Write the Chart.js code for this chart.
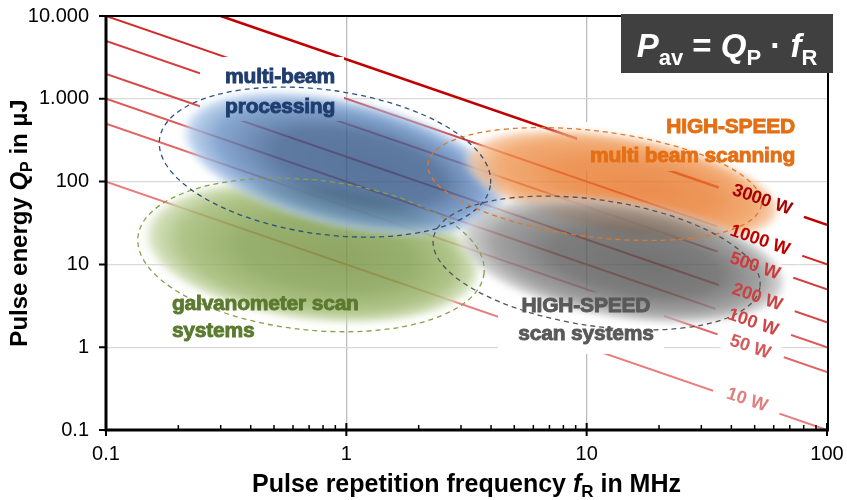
<!DOCTYPE html>
<html><head><meta charset="utf-8">
<script src="https://cdn.jsdelivr.net/npm/chart.js@4"></script>
<style>html,body{margin:0;padding:0;background:#fff;}#wrap{width:847px;height:500px;position:relative;}</style>
</head><body><div id="wrap"><canvas id="c" width="847" height="500"></canvas></div>
<script>
// ---------- data ----------
const xTickValues = [0.1, 1, 10, 100];
const xTickLabels = ['0.1', '1', '10', '100'];
const yTickValues = [0.1, 1, 10, 100, 1000, 10000];
const yTickLabels = ['0.1', '1', '10', '100', '1.000', '10.000'];

// lines of constant average power (f in MHz, Q in µJ)
const powerLabels = ['10 W', '50 W', '100 W', '200 W', '500 W', '1000 W', '3000 W'];
const lineStartF = [0.1, 0.1, 0.1, 0.1, 0.1, 0.1, 0.3];
const lineStartQ = [100, 500, 1000, 2000, 5000, 10000, 10000];
const lineEndF = [100, 100, 100, 100, 100, 100, 100];
const lineEndQ = [0.1, 0.5, 1, 2, 5, 10, 30];
const labelF = [46.5, 47.9, 49.2, 51.2, 50.1, 52.6, 53.7];
const labelQ = [0.23, 1.0, 1.98, 4.0, 9.5, 19.5, 60];

// application regions (ellipses)
const regionText = [['galvanometer scan', 'systems'], ['multi-beam', 'processing'], ['HIGH-SPEED', 'multi beam scanning'], ['HIGH-SPEED', 'scan systems']];
const fillCenterF = [0.719, 0.98, 14.0, 14.0];
const fillCenterQ = [14.1, 165, 91, 11.3];
const fillHalfDecF = [0.716, 0.70, 0.674, 0.699];
const fillHalfDecQ = [0.845, 0.78, 0.604, 0.725];
const outlineCenterF = [0.713, 0.815, 10.8, 11.0];
const outlineCenterQ = [13.0, 172, 93.5, 10.4];
const outlineHalfDecF = [0.724, 0.695, 0.699, 0.687];
const outlineHalfDecQ = [0.906, 0.87, 0.64, 0.761];
const textAnchorF = [0.188, 0.53, 73.6, 9.93];
const textAnchorQ = [2.81, 1552, 386, 2.66];

// white label backgrounds (f0, f1, Q0, Q1)
const boxF0 = [0.246, 9.12, 4.28];
const boxF1 = [0.978, 77.3, 21.0];
const boxQ0 = [540, 134, 0.83];
const boxQ1 = [3200, 525, 4.6];

// ---------- styles ----------
const FONT = '"Liberation Sans", Arial, Helvetica, sans-serif';
const lineColors = ['#e87c7c', '#e26464', '#dd5858', '#d94646', '#d63c3c', '#d42828', '#c00000'];
const lineWidths = [2, 2, 2, 2, 2, 2, 2.6];
const labelColors = ['#e07f7f', '#d65858', '#cf4444', '#cc4242', '#cc3a3a', '#c00000', '#a80000'];
const regionTilt = [7, 13, 10, 9];
const outlineTilt = [6, 8, 7, 8.5];
const regionGrad = [
  ['#748f3c', '#7e9c49', '#9cb66c', '#cbdaad', 'rgba(236,242,226,0)'],
  ['#2f5283', '#37598a', '#6890c5', '#adc7e8', 'rgba(222,233,247,0)'],
  ['#e67124', '#e97d31', '#ef9854', '#f5c59d', 'rgba(252,236,222,0)'],
  ['#4f4f4f', '#5c5c5c', '#8c8c8c', '#c8c8c8', 'rgba(238,238,238,0)']
];
const outlineColors = ['#86a04a', '#2f5181', '#e0782a', '#555555'];
const textColors = ['#5b7a2f', '#1f3d6e', '#e46f14', '#595959'];
const textAlign = ['left', 'center', 'right', 'center'];
const textGap = [27, 30, 29, 28];
const drawOrder = [0, 1, 2, 3];

function drawRich(ctx, parts, x, y) {
  for (const p of parts) {
    ctx.font = p.font;
    ctx.fillText(p.text, x, y + (p.dy || 0));
    x += ctx.measureText(p.text).width;
  }
}
function richWidth(ctx, parts) {
  let w = 0;
  for (const p of parts) { ctx.font = p.font; w += ctx.measureText(p.text).width; }
  return w;
}

const overlay = {
  id: 'overlay',
  afterDatasetsDraw(chart) {
    const ctx = chart.ctx, xs = chart.scales.x, ys = chart.scales.y;
    const px = v => xs.getPixelForValue(v), py = v => ys.getPixelForValue(v);
    ctx.save();
    // white backgrounds of region labels
    ctx.fillStyle = '#ffffff';
    for (let i = 0; i < boxF0.length; i++) {
      const x0 = px(boxF0[i]), x1 = px(boxF1[i]), y0 = py(boxQ1[i]), y1 = py(boxQ0[i]);
      ctx.fillRect(x0, y0, x1 - x0, y1 - y0);
    }
    // white backgrounds of power labels
    const ang = Math.atan2(py(lineEndQ[0]) - py(lineStartQ[0]), px(lineEndF[0]) - px(lineStartF[0]));
    ctx.font = 'bold 18px ' + FONT;
    for (let i = 0; i < powerLabels.length; i++) {
      const w = ctx.measureText(powerLabels[i]).width + 28;
      ctx.save();
      ctx.translate(px(labelF[i]), py(labelQ[i]));
      ctx.rotate(ang);
      ctx.fillRect(-w / 2, -10, w, 20);
      ctx.restore();
    }
    // soft ellipse fills
    for (const i of drawOrder) {
      const cx = px(fillCenterF[i]), cy = py(fillCenterQ[i]);
      const rx = px(fillCenterF[i] * Math.pow(10, fillHalfDecF[i])) - cx;
      const ry = cy - py(fillCenterQ[i] * Math.pow(10, fillHalfDecQ[i]));
      const g = regionGrad[i];
      ctx.save();
      ctx.globalAlpha = 0.8;
      ctx.filter = 'blur(3px)';
      ctx.translate(cx, cy);
      ctx.rotate(regionTilt[i] * Math.PI / 180);
      ctx.scale(1, ry / rx);
      const grd = ctx.createRadialGradient(rx * 0.18, 0, 0, 0, 0, rx);
      grd.addColorStop(0, g[0]);
      grd.addColorStop(0.5, g[1]);
      grd.addColorStop(0.8, g[2]);
      grd.addColorStop(0.94, g[3]);
      grd.addColorStop(1, g[4]);
      ctx.fillStyle = grd;
      ctx.beginPath();
      ctx.arc(0, 0, rx, 0, Math.PI * 2);
      ctx.fill();
      ctx.restore();
    }
    // dashed outlines
    for (const i of drawOrder) {
      const cx = px(outlineCenterF[i]), cy = py(outlineCenterQ[i]);
      const rx = px(outlineCenterF[i] * Math.pow(10, outlineHalfDecF[i])) - cx;
      const ry = cy - py(outlineCenterQ[i] * Math.pow(10, outlineHalfDecQ[i]));
      ctx.save();
      ctx.strokeStyle = outlineColors[i];
      ctx.lineWidth = 1.3;
      ctx.setLineDash([5, 4]);
      ctx.beginPath();
      ctx.ellipse(cx, cy, rx, ry, outlineTilt[i] * Math.PI / 180, 0, Math.PI * 2);
      ctx.stroke();
      ctx.restore();
    }
    // region labels
    for (let i = 0; i < regionText.length; i++) {
      const ax = px(textAnchorF[i]), ay = py(textAnchorQ[i]);
      ctx.save();
      ctx.font = 'bold 21px ' + FONT;
      ctx.fillStyle = textColors[i];
      ctx.strokeStyle = textColors[i];
      ctx.lineWidth = 0.9;
      ctx.textAlign = textAlign[i];
      ctx.textBaseline = 'alphabetic';
      if ('letterSpacing' in ctx) ctx.letterSpacing = '-0.2px';
      regionText[i].forEach((t, k) => {
        ctx.fillText(t, ax, ay + k * textGap[i]);
        ctx.strokeText(t, ax, ay + k * textGap[i]);
      });
      ctx.restore();
    }
    // power labels
    ctx.font = 'bold 18px ' + FONT;
    ctx.textAlign = 'center';
    ctx.textBaseline = 'middle';
    for (let i = 0; i < powerLabels.length; i++) {
      ctx.save();
      ctx.translate(px(labelF[i]), py(labelQ[i]));
      ctx.rotate(ang);
      ctx.fillStyle = labelColors[i];
      ctx.fillText(powerLabels[i], 0, 0);
      ctx.restore();
    }
    ctx.restore();
  },
  afterDraw(chart) {
    const ctx = chart.ctx, a = chart.chartArea, xs = chart.scales.x, ys = chart.scales.y;
    ctx.save();
    ctx.strokeStyle = '#000';
    // frame
    ctx.lineWidth = 2;
    ctx.beginPath();
    ctx.moveTo(a.left, a.top); ctx.lineTo(a.right + 1, a.top);
    ctx.moveTo(a.right + 1, a.top); ctx.lineTo(a.right + 1, a.bottom);
    ctx.stroke();
    ctx.lineWidth = 3;
    ctx.beginPath();
    ctx.moveTo(a.left, a.top - 1); ctx.lineTo(a.left, a.bottom + 1.5);
    ctx.moveTo(a.left - 1.5, a.bottom); ctx.lineTo(a.right + 2, a.bottom);
    ctx.stroke();
    // y ticks
    ctx.lineWidth = 2;
    ctx.beginPath();
    for (const v of yTickValues) { const y = ys.getPixelForValue(v); ctx.moveTo(a.left - 7, y); ctx.lineTo(a.left, y); }
    // x major ticks
    for (const v of xTickValues) { const x = xs.getPixelForValue(v); ctx.moveTo(x, a.bottom - 7); ctx.lineTo(x, a.bottom + 6); }
    ctx.stroke();
    // x minor ticks
    ctx.lineWidth = 1.5;
    ctx.beginPath();
    for (let k = 0; k < xTickValues.length - 1; k++) {
      for (let m = 2; m <= 9; m++) {
        const x = xs.getPixelForValue(xTickValues[k] * m);
        ctx.moveTo(x, a.bottom - 5); ctx.lineTo(x, a.bottom);
      }
    }
    ctx.stroke();

    // axis titles
    ctx.fillStyle = '#000';
    ctx.textBaseline = 'alphabetic';
    const B = 'bold 25px ' + FONT, BI = 'italic bold 25px ' + FONT, S = 'bold 17px ' + FONT;
    const xt = [{text: 'Pulse repetition frequency ', font: B}, {text: 'f', font: BI}, {text: 'R', font: S, dy: 5}, {text: ' in MHz', font: B}];
    const wx = richWidth(ctx, xt);
    drawRich(ctx, xt, (a.left + a.right) / 2 - wx / 2, 492);
    const B2 = 'bold 24px ' + FONT, BI2 = 'italic bold 24px ' + FONT, S2 = 'bold 16px ' + FONT;
    const yt = [{text: 'Pulse energy ', font: B2}, {text: 'Q', font: BI2}, {text: 'P', font: S2, dy: 5}, {text: ' in µJ', font: B2}];
    const wy = richWidth(ctx, yt);
    ctx.save();
    ctx.translate(27, (a.top + a.bottom) / 2);
    ctx.rotate(-Math.PI / 2);
    drawRich(ctx, yt, -wy / 2, 0);
    ctx.restore();

    // formula box
    ctx.fillStyle = '#404040';
    ctx.fillRect(621, 14, 212, 59);
    ctx.fillStyle = '#ffffff';
    const F = 'bold 33px ' + FONT, FI = 'italic bold 33px ' + FONT, FS = 'bold 22px ' + FONT;
    const ft = [{text: 'P', font: FI}, {text: 'av', font: FS, dy: 8}, {text: ' = ', font: F}, {text: 'Q', font: FI}, {text: 'P', font: FS, dy: 8}, {text: ' · ', font: F}, {text: 'f', font: FI}, {text: 'R', font: FS, dy: 8}];
    const wf = richWidth(ctx, ft);
    drawRich(ctx, ft, 727 - wf / 2, 57);
    ctx.restore();
  }
};

new Chart(document.getElementById('c'), {
  type: 'scatter',
  data: {
    datasets: powerLabels.map((lab, i) => ({
      label: lab,
      data: [{x: lineStartF[i], y: lineStartQ[i]}, {x: lineEndF[i], y: lineEndQ[i]}],
      showLine: true,
      borderColor: lineColors[i],
      backgroundColor: lineColors[i],
      borderWidth: lineWidths[i],
      pointRadius: 0,
      fill: false
    }))
  },
  options: {
    responsive: false,
    animation: false,
    devicePixelRatio: 1,
    layout: {padding: {top: 16, right: 20, left: 0, bottom: 0}},
    plugins: {legend: {display: false}, tooltip: {enabled: false}},
    scales: {
      x: {
        type: 'logarithmic', min: 0.1, max: 100, position: 'bottom',
        afterBuildTicks: s => { s.ticks = xTickValues.map(v => ({value: v})); },
        afterFit: s => { s.height = 70; s.paddingLeft = 0; s.paddingRight = 0; },
        ticks: {
          autoSkip: false, maxRotation: 0, padding: 12, color: '#000',
          font: {family: FONT, size: 20},
          callback: v => { const k = xTickValues.indexOf(v); return k >= 0 ? xTickLabels[k] : ''; }
        },
        grid: {
          drawTicks: false, lineWidth: 1.3,
          color: c => (c.tick && (c.tick.value === 1 || c.tick.value === 10)) ? '#bdbdbd' : 'rgba(0,0,0,0)'
        },
        border: {display: false}
      },
      y: {
        type: 'logarithmic', min: 0.1, max: 10000, position: 'left',
        afterBuildTicks: s => { s.ticks = yTickValues.map(v => ({value: v})); },
        afterFit: s => { s.width = 106; s.paddingTop = 0; s.paddingBottom = 0; },
        ticks: {
          autoSkip: false, padding: 17, color: '#000',
          font: {family: FONT, size: 20},
          callback: v => { const k = yTickValues.indexOf(v); return k >= 0 ? yTickLabels[k] : ''; }
        },
        grid: {
          drawTicks: false, lineWidth: 1.3,
          color: c => (c.tick && c.tick.value > 0.5 && c.tick.value < 5000) ? '#d9d9d9' : 'rgba(0,0,0,0)'
        },
        border: {display: false}
      }
    }
  },
  plugins: [overlay]
});
</script>
</body></html>
